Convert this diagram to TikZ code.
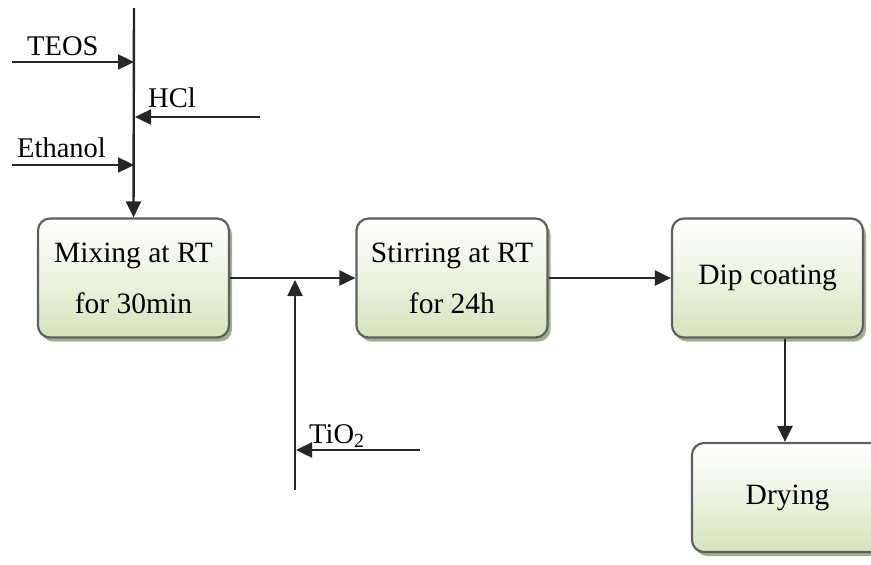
\documentclass[tikz,border=0pt]{standalone}
\usepackage{fontspec}
\setmainfont{Liberation Serif}
\usetikzlibrary{arrows.meta,shadows}

\definecolor{linegray}{RGB}{38,38,38}
\definecolor{boxedge}{RGB}{95,95,95}
\definecolor{boxgreen}{RGB}{214,227,188}
\definecolor{shadowgreen}{RGB}{160,176,140}

\tikzset{
  stepbox/.style={
    draw=boxedge, line width=2.2pt, rounded corners=12pt,
    top color=white, bottom color=boxgreen, middle color=boxgreen!45,
    minimum width=191pt, minimum height=119pt, align=center,
    font=\fontsize{29.5}{51}\selectfont,
    drop shadow={shadow xshift=3pt, shadow yshift=-4pt, fill=shadowgreen, opacity=1}
  },
  flow/.style={draw=linegray, line width=2.4pt,
    -{Triangle[length=16pt,width=15pt]}},
  tag/.style={inner sep=0pt, anchor=base west, font=\fontsize{28.5}{34}\selectfont}
}

\begin{document}
\begin{tikzpicture}[x=1pt,y=-1pt]
\useasboundingbox (0,0) rectangle (871,565);

% process steps
\node[stepbox] (mix)  at (133.5,278) {Mixing at RT\\for 30min};
\node[stepbox] (stir) at (452,278)   {Stirring at RT\\for 24h};
\node[stepbox] (dip)  at (767.5,278) {Dip coating};
\node[stepbox, minimum height=109pt] (dry) at (787.5,497.5) {Drying};

% feed line into the mixing step
\coordinate (feedtop) at (134,8);
\coordinate (teosin)  at (12,62);
\coordinate (teosat)  at (134,62);
\coordinate (hclin)   at (260,117);
\coordinate (hclat)   at (135,117);
\coordinate (ethin)   at (12,165);
\coordinate (ethat)   at (134,165);

\draw[flow] (feedtop) -- (mix.north);
\draw[flow] (teosin) -- (teosat);
\draw[flow] (hclin) -- (hclat);
\draw[flow] (ethin) -- (ethat);

\node[tag] (teos) at (27,55)  {TEOS};
\node[tag] (hcl)  at (148,107) {HCl};
\node[tag] (eth)  at (17,157) {Ethanol};

% main flow
\draw[flow] (mix.east) -- (stir.west);
\draw[flow] (stir.east) -- (dip.west);
\draw[flow] (dip.south -| 785,0) -- (dry.north -| 785,0);

% titania addition
\coordinate (tibottom) at (295,490);
\coordinate (tijoin)   at (295,280);
\coordinate (tiin)     at (420,450);
\coordinate (tiat)     at (296,450);
\draw[flow] (tibottom) -- (tijoin);
\draw[flow] (tiin) -- (tiat);
\node[tag] (tio) at (309,443) {TiO\textsubscript{2}};
\end{tikzpicture}
\end{document}
